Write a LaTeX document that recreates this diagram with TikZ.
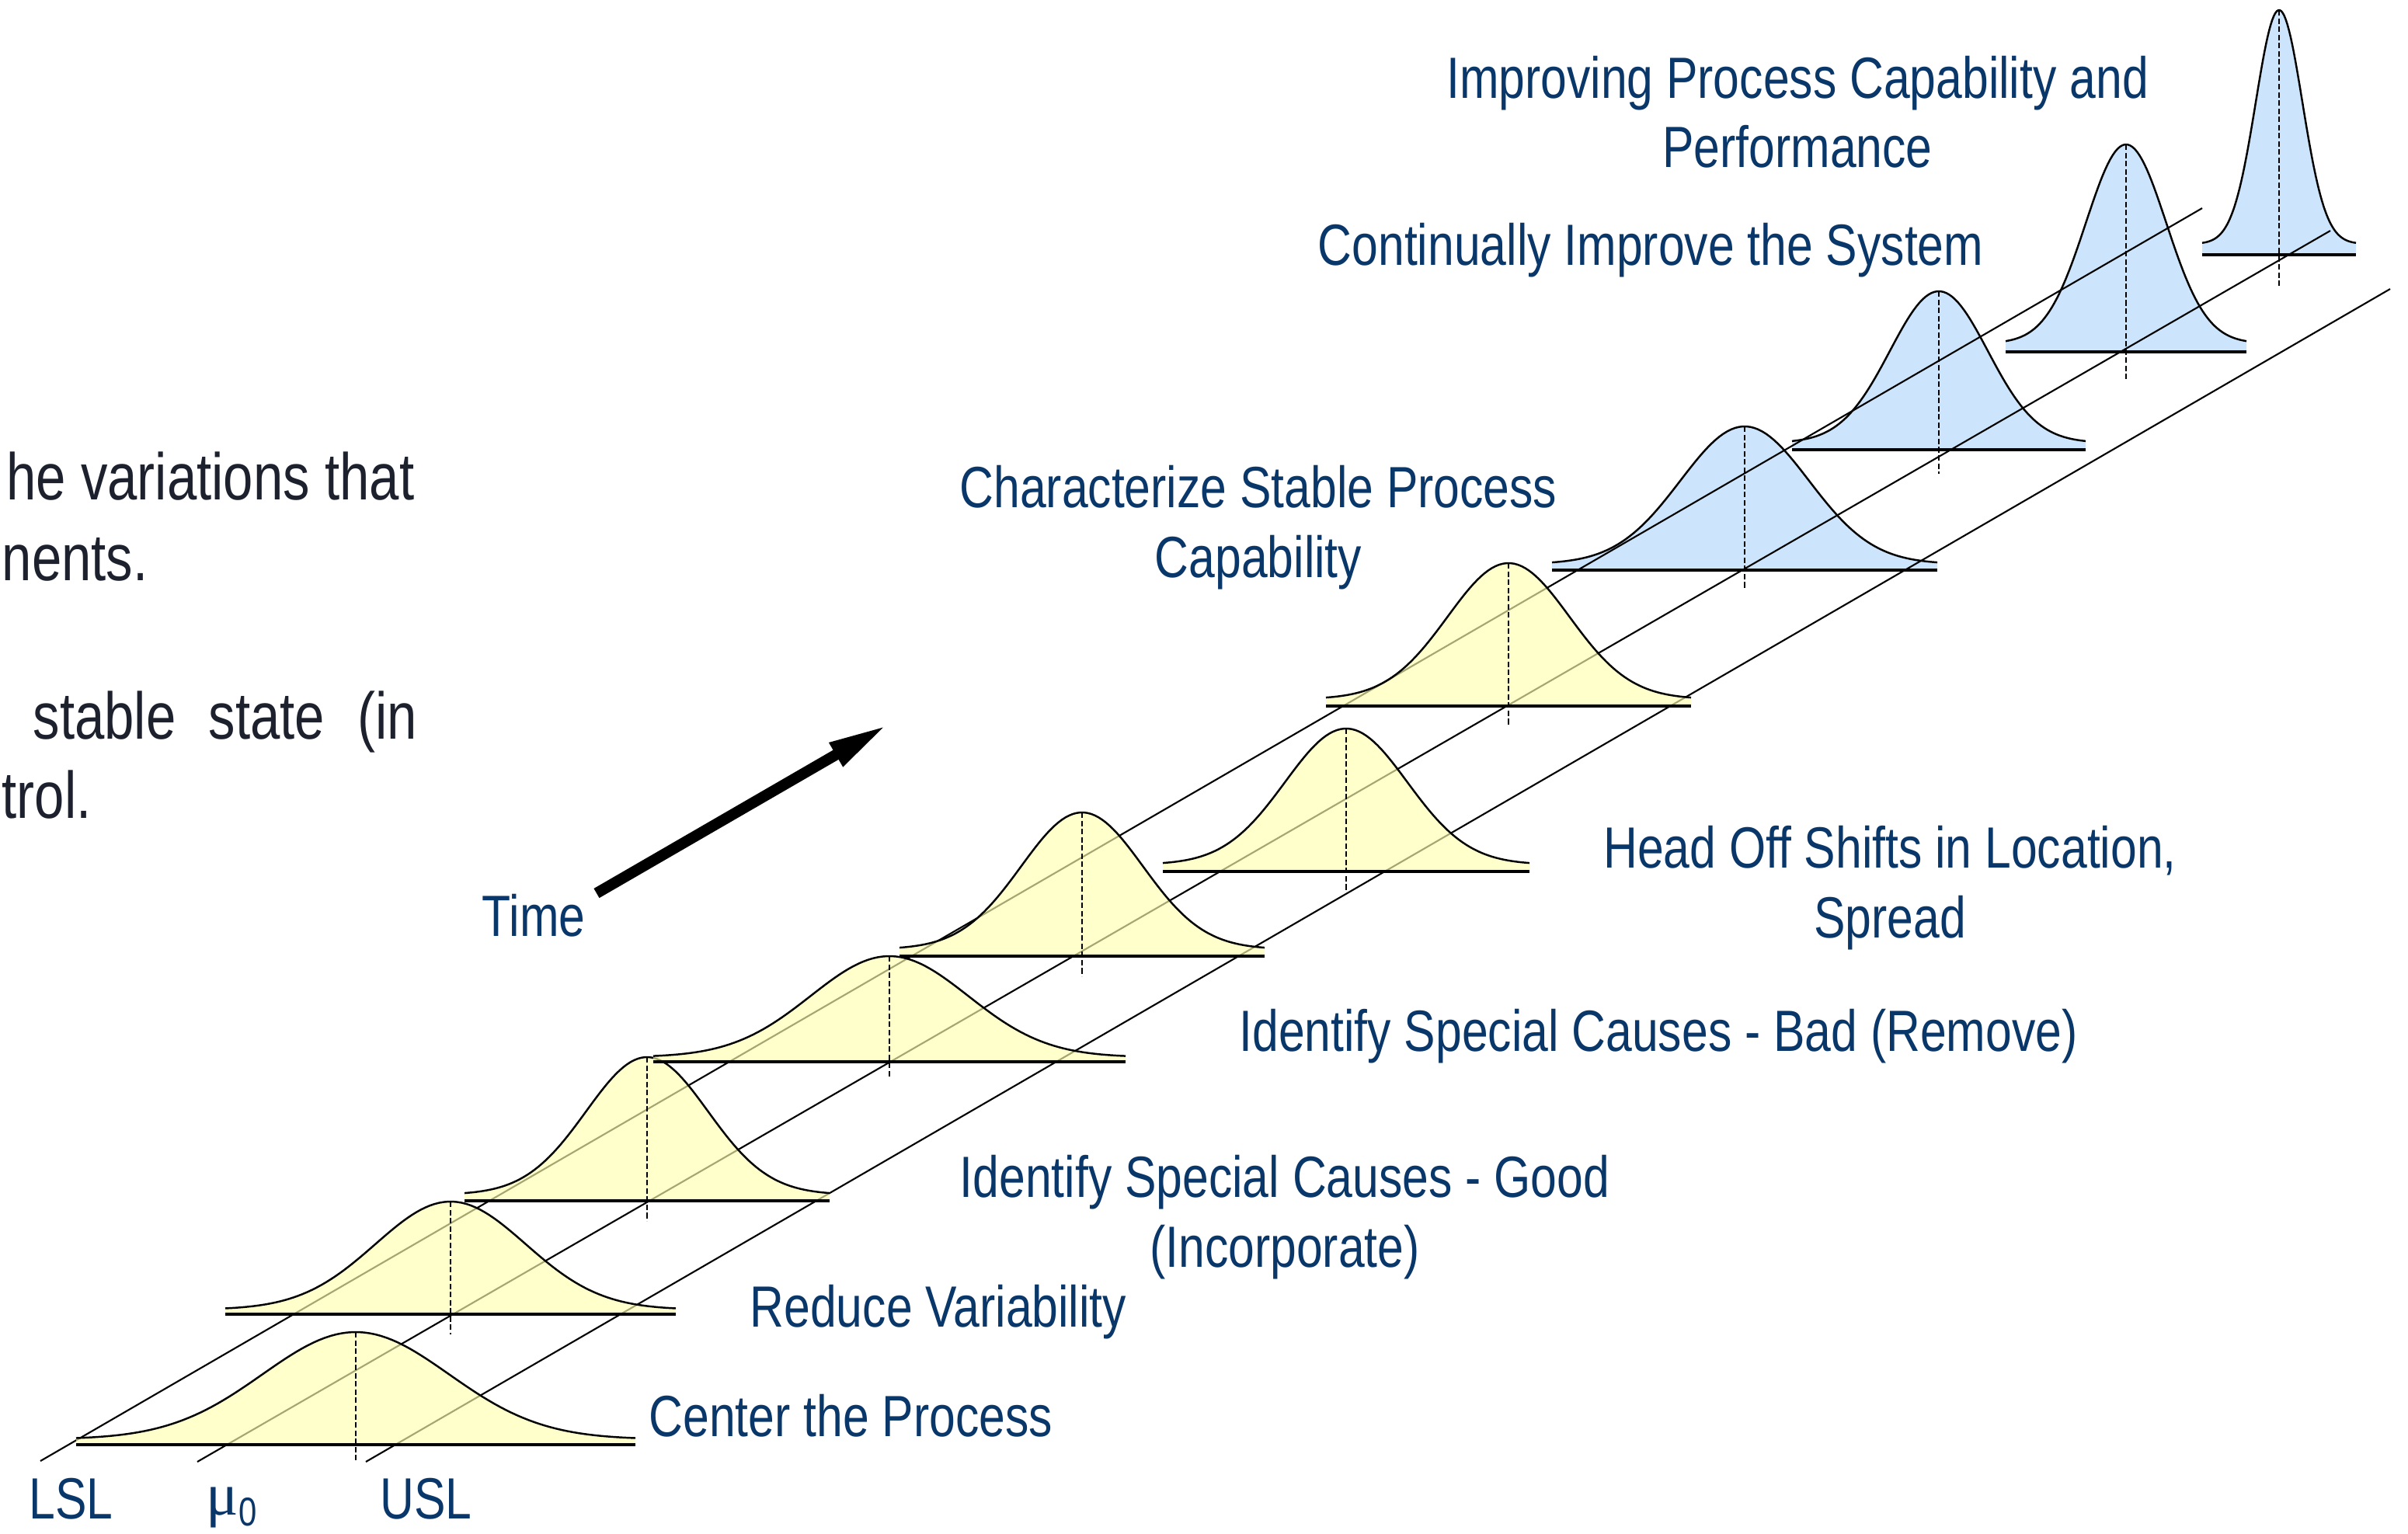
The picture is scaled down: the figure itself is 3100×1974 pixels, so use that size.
\documentclass[tikz,border=0pt]{standalone}
\usepackage{fontspec}
\newfontfamily\labf{Liberation Sans}[FakeStretch=0.81]
\newfontfamily\muf{Liberation Serif}
\usetikzlibrary{arrows.meta}
\definecolor{navy}{RGB}{10,55,105}
\definecolor{darktext}{RGB}{28,33,45}
\definecolor{yel}{RGB}{255,255,177}
\definecolor{blu}{RGB}{204,228,252}
% #1 name, #2 centre x, #3 half width, #4 baseline y, #5 height, #6 tail height, #7 dash bottom y, #8 fill style, #9 width/sigma
\newcommand\bellcurve[9]{%
  \pgfmathsetmacro\bL{#2-#3}%
  \pgfmathsetmacro\bR{#2+#3}%
  \pgfmathsetmacro\bS{#3/#9}%
  \fill[#8] (\bL,#4) -- plot[domain=\bL:\bR, samples=100] (\x, {#4-#6-(#5-#6)*exp(-0.5*((\x-#2)/\bS)^2)}) -- (\bR,#4) -- cycle;
  \draw[curveline] plot[domain=\bL:\bR, samples=100] (\x, {#4-#6-(#5-#6)*exp(-0.5*((\x-#2)/\bS)^2)});
  \draw[baseln] (\bL,#4) -- (\bR,#4);
  \coordinate (#1top) at (#2,#4-#5);
  \coordinate (#1bot) at (#2,#7);
  \draw[dashln] (#1top) -- (#1bot);
}
\begin{document}
\begin{tikzpicture}[x=0.01cm, y=-0.01cm,
  lbl/.style={inner sep=0, text=navy, font=\labf\fontsize{21.3pt}{25pt}\selectfont},
  lefttxt/.style={inner sep=0, text=darktext, font=\labf\fontsize{24.2pt}{29pt}\selectfont},
  specline/.style={line width=0.6pt, black},
  curveline/.style={line width=0.7pt, black},
  baseln/.style={line width=1pt, black},
  dashln/.style={line width=0.6pt, black, dash pattern=on 2pt off 1pt},
  yfill/.style={fill=yel, fill opacity=0.65},
  bfill/.style={fill=blu},
  timearrow/.style={line width=4pt, black, -{Triangle[length=22pt, width=9pt]}}
]
\useasboundingbox (0,0) rectangle (3100,1974);

% blue curves (lines run over them)
\bellcurve{c8}{2246}{248}{734}{185}{8}{759}{bfill}{3}
\bellcurve{c9}{2496}{189}{579}{204}{9}{610}{bfill}{3}
\bellcurve{c10}{2737}{155}{453}{267}{11}{490}{bfill}{3}
\bellcurve{c11}{2934}{99}{328}{315}{14}{371}{bfill}{3.3}

% LSL, mu0, USL lines
\coordinate (lslA) at (52,1881);  \coordinate (lslB) at (2835,268);
\coordinate (muA)  at (254,1882); \coordinate (muB)  at (3000,297);
\coordinate (uslA) at (471,1882); \coordinate (uslB) at (3077,372);
\draw[specline] (lslA) -- (lslB);
\draw[specline] (muA) -- (muB);
\draw[specline] (uslA) -- (uslB);

% yellow curves (lines show through)
\bellcurve{c1}{458}{360}{1860}{145}{7}{1882}{yfill}{3}
\bellcurve{c2}{580}{290}{1692}{145}{6}{1718}{yfill}{3}
\bellcurve{c3}{833}{235}{1546}{185}{8}{1572}{yfill}{3}
\bellcurve{c4}{1145}{304}{1367}{136}{6}{1387}{yfill}{3}
\bellcurve{c5}{1393}{235}{1231}{185}{9}{1257}{yfill}{3}
\bellcurve{c6}{1733}{236}{1122}{184}{9}{1148}{yfill}{3}
\bellcurve{c7}{1942}{235}{909}{184}{9}{935}{yfill}{3}

% time arrow
\coordinate (tA) at (768,1150);
\coordinate (tB) at (1143,933);
\draw[timearrow] (tA) -- (tB);
\node[lbl, anchor=base west] (time) at (620,1205) {Time};

% axis labels
\node[lbl, anchor=base west] (lsl) at (37,1955) {LSL};
\node[inner sep=0, anchor=base west, text=navy] (mu) at (265,1950)
  {\muf\fontsize{22pt}{26pt}\selectfont μ\raisebox{-4.2pt}{\labf\fontsize{14.7pt}{17pt}\selectfont 0}};
\node[lbl, anchor=base west] (usl) at (489,1955) {USL};

% step labels
\node[lbl, anchor=base west] (l1) at (835,1849) {Center the Process};
\node[lbl, anchor=base west] (l2) at (965,1708) {Reduce Variability};
\node[lbl, anchor=base] (l3a) at (1654,1541) {Identify Special Causes - Good};
\node[lbl, anchor=base] (l3b) at (1654,1631) {(Incorporate)};
\node[lbl, anchor=base] (l4) at (2135,1353) {Identify Special Causes - Bad (Remove)};
\node[lbl, anchor=base] (l5a) at (2433,1117) {Head Off Shifts in Location,};
\node[lbl, anchor=base] (l5b) at (2433,1207) {Spread};
\node[lbl, anchor=base] (l6a) at (1620,653) {Characterize Stable Process};
\node[lbl, anchor=base] (l6b) at (1620,743) {Capability};
\node[lbl, anchor=base] (l7) at (2125,341) {Continually Improve the System};
\node[lbl, anchor=base] (l8a) at (2314,126) {Improving Process Capability and};
\node[lbl, anchor=base] (l8b) at (2314,215) {Performance};

% cut-off body text at the left
\node[lefttxt, anchor=base east] (t1) at (534,643) {he variations that};
\node[lefttxt, anchor=base west] (t2) at (2,747) {nents.};
\node[lefttxt, anchor=base west] (t3) at (42,951) {\makebox[4.94cm][s]{stable state (in}};
\node[lefttxt, anchor=base west] (t4) at (2,1053) {trol.};
\end{tikzpicture}
\end{document}
